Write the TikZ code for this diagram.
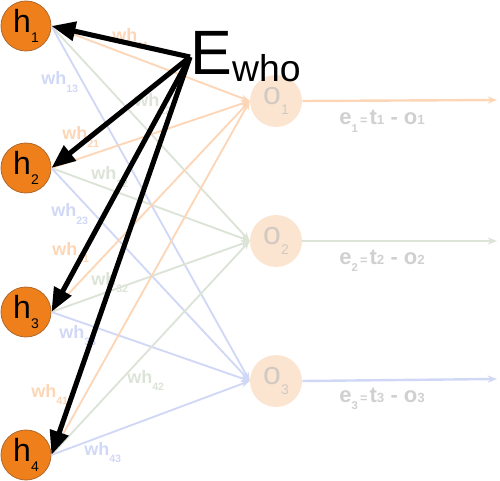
\documentclass[tikz,border=0pt]{standalone}
\usepackage{fontspec}
\setmainfont{Liberation Sans}
\usetikzlibrary{arrows.meta}
\definecolor{hfill}{HTML}{EE7F1B}
\definecolor{hdraw}{HTML}{B0682C}
\definecolor{ofill}{HTML}{FCE5D0}
\definecolor{otext}{HTML}{D2CAC2}
\definecolor{orE}{HTML}{FCD6B6}
\definecolor{grE}{HTML}{DCE3D7}
\definecolor{blE}{HTML}{D1D8F6}
\definecolor{etext}{HTML}{D0D0D0}
\newcommand{\nlab}[2]{{\fontsize{24}{24}\selectfont #1}\raisebox{-7.6pt}{\fontsize{10.5}{10.5}\selectfont #2}}
\newcommand{\whl}[1]{{\fontsize{13.5}{13.5}\selectfont\bfseries wh}\raisebox{-5.8pt}{\fontsize{8}{8}\selectfont\bfseries #1}}
\newcommand{\elab}[1]{\bfseries{\fontsize{16.5}{16.5}\selectfont e}\raisebox{-5.8pt}{\fontsize{8.5}{8.5}\selectfont #1}\,{\fontsize{9.5}{9.5}\selectfont =}\,{\fontsize{16.5}{16.5}\selectfont t}{\fontsize{10}{10}\selectfont #1}{\fontsize{16.5}{16.5}\selectfont\ -\ o}{\fontsize{10}{10}\selectfont #1}}
\begin{document}
\begin{tikzpicture}[x=0.75pt,y=-0.75pt,
  hnode/.style={circle, fill=hfill, draw=hdraw, line width=0.6pt, minimum size=37.5pt, inner sep=0pt},
  onode/.style={circle, fill=ofill, minimum size=39pt, inner sep=0pt, text=otext},
  wedge/.style={line width=1.4pt, -{Stealth[length=6.5pt,width=5pt]}},
  oarrow/.style={line width=1.8pt, -{Stealth[length=7pt,width=5.5pt]}},
  bigarrow/.style={line width=3.8pt, -{Triangle[length=18pt,width=14pt]}},
  wlab/.style={anchor=base west, inner sep=0pt},
  elabel/.style={anchor=base west, inner sep=0pt, text=etext}]
\useasboundingbox (0,0) rectangle (500,481);
% nodes
\node[hnode] (h1) at (26,26) {\nlab{h}{1}};
\node[hnode] (h2) at (26,168) {\nlab{h}{2}};
\node[hnode] (h3) at (26,312) {\nlab{h}{3}};
\node[hnode] (h4) at (26,455) {\nlab{h}{4}};
\node[onode] (o1) at (276,101) {\nlab{o}{1}};
\node[onode] (o2) at (276,241) {\nlab{o}{2}};
\node[onode] (o3) at (276,381) {\nlab{o}{3}};
% weighted edges
\foreach \i in {1,...,4} {
  \draw[wedge, orE] (h\i.east) -- (o1.west);
  \draw[wedge, grE] (h\i.east) -- (o2.west);
  \draw[wedge, blE] (h\i.east) -- (o3.west);
}
% outputs
\coordinate (t1) at (497,100);
\coordinate (t2) at (497,241);
\coordinate (t3) at (497,379);
\draw[oarrow, orE] (o1.east) -- (t1);
\draw[oarrow, grE] (o2.east) -- (t2);
\draw[oarrow, blE] (o3.east) -- (t3);
\node[elabel] (e1) at (339,125) {\elab{1}};
\node[elabel] (e2) at (339,264) {\elab{2}};
\node[elabel] (e3) at (339,402) {\elab{3}};
% weight labels
\node[wlab, text=orE] (w11) at (112,42) {\whl{11}};
\node[wlab, text=grE] (w12) at (134,107) {\whl{12}};
\node[wlab, text=blE] (w13) at (41,85) {\whl{13}};
\node[wlab, text=orE] (w21) at (62,140) {\whl{21}};
\node[wlab, text=grE] (w22) at (91,180) {\whl{22}};
\node[wlab, text=blE] (w23) at (51,217) {\whl{23}};
\node[wlab, text=orE] (w31) at (52,255) {\whl{31}};
\node[wlab, text=grE] (w32) at (91,285) {\whl{32}};
\node[wlab, text=blE] (w33) at (59,338) {\whl{33}};
\node[wlab, text=orE] (w41) at (31,397) {\whl{41}};
\node[wlab, text=grE] (w42) at (127,383) {\whl{42}};
\node[wlab, text=blE] (w43) at (84,455) {\whl{43}};
% error arrows
\coordinate (Es) at (190,57);
\draw[bigarrow] (Es) -- (h1.east);
\draw[bigarrow] (Es) -- (h2.east);
\draw[bigarrow] (Es) -- (h3.east);
\draw[bigarrow] (Es) -- (h4.east);
\node[anchor=base west, inner sep=0pt] (E) at (190,75) {{\fontsize{47}{47}\selectfont E}\raisebox{-5pt}{\fontsize{28}{28}\selectfont who}};
\end{tikzpicture}
\end{document}
